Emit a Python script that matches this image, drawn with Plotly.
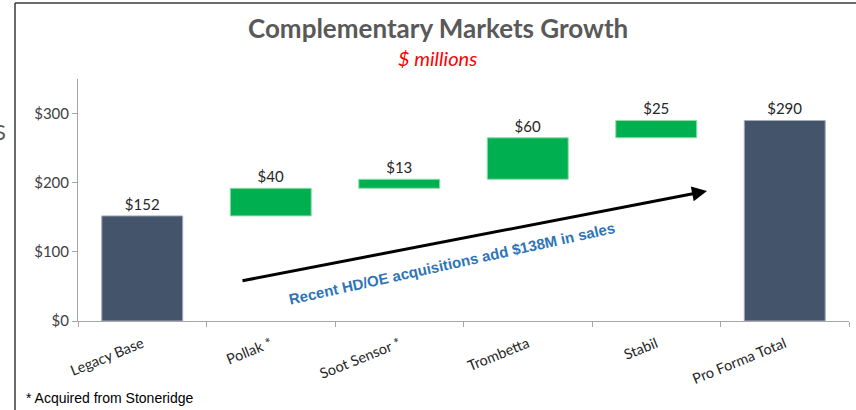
import plotly.graph_objects as go

categories = ["Legacy Base", "Pollak *", "Soot Sensor *", "Trombetta", "Stabil", "Pro Forma Total"]
values = [152, 40, 13, 60, 25, 290]
kinds = ["total", "step", "step", "step", "step", "total"]
tick_vals = [0, 100, 200, 300]
tick_text = ["$0", "$100", "$200", "$300"]

# compute bases from the data
bases = []
running = 0
for v, k in zip(values, kinds):
    if k == "total":
        bases.append(0)
        running = v
    else:
        bases.append(running)
        running += v

DARK = "#44546A"
GREEN = "#00B050"
colors = [DARK if k == "total" else GREEN for k in kinds]
edge = ["#A6AEBB" if k == "total" else "#8FDCAB" for k in kinds]

fig = go.Figure(go.Bar(
    x=categories,
    y=values,
    base=bases,
    marker=dict(color=colors, line=dict(color=edge, width=1)),
    width=0.63,
    text=[f"${v}" for v in values],
    textposition="outside",
    textfont=dict(family="Lato, Open Sans, sans-serif", size=15, color="#262626"),
    cliponaxis=False,
    hoverinfo="skip",
))

L, R, T, B = 78, 7, 79, 89
W, H = 856, 410
pw = W - L - R
ph = H - T - B

def px(x):
    return (x - L) / pw

def py(y):
    return (H - B - y) / ph

fig.update_layout(
    width=W, height=H,
    margin=dict(l=L, r=R, t=T, b=B, autoexpand=False),
    paper_bgcolor="white", plot_bgcolor="white",
    showlegend=False,
    font=dict(family="Lato, Open Sans, sans-serif", color="#404040"),
)
fig.update_yaxes(
    range=[0, 350],
    tickvals=tick_vals, ticktext=tick_text,
    showgrid=False, zeroline=False,
    showline=True, linecolor="#A6A6A6", linewidth=1,
    ticks="outside", ticklen=5, tickcolor="#A6A6A6",
    tickfont=dict(size=15, color="#404040"),
    automargin=False,
)
fig.update_xaxes(
    showgrid=False,
    showline=True, linecolor="#A6A6A6", linewidth=1,
    ticks="outside", ticklen=5, tickcolor="#A6A6A6", tickson="boundaries",
    tickangle=-22,
    ticklabelstandoff=8,
    tickfont=dict(size=14.5, color="#262626"),
    automargin=False,
)

annotations = [
    dict(text="<b>Complementary Markets Growth</b>", x=px(438), y=py(28), xref="paper", yref="paper",
         xanchor="center", yanchor="middle", showarrow=False,
         font=dict(family="Lato, Open Sans, sans-serif", size=26, color="#595959")),
    dict(text="<i>$ millions</i>", x=px(437), y=py(58), xref="paper", yref="paper",
         xanchor="center", yanchor="middle", showarrow=False,
         font=dict(family="Lato, Open Sans, sans-serif", size=20, color="#FF0000")),
    dict(text="", x=px(707), y=py(191), ax=px(241), ay=py(281),
         xref="x domain", yref="y domain", axref="x domain", ayref="y domain",
         showarrow=True, arrowhead=2, arrowsize=1, arrowwidth=3, arrowcolor="#000000"),
    dict(text="<b>Recent HD/OE acquisitions add $138M in sales</b>", x=px(451), y=py(263),
         xref="paper", yref="paper", xanchor="center", yanchor="middle",
         showarrow=False, textangle=-12.5,
         font=dict(family="Liberation Sans, Arial, sans-serif", size=15, color="#2E75B6")),
    dict(text="* Acquired from Stoneridge", x=px(24), y=py(398), xref="paper", yref="paper",
         xanchor="left", yanchor="middle", showarrow=False,
         font=dict(family="Liberation Sans, Arial, sans-serif", size=14, color="#000000")),
    dict(text="S", x=px(-8), y=py(131), xref="paper", yref="paper", xanchor="left",
         yanchor="middle", showarrow=False,
         font=dict(family="Lato, sans-serif", size=22, color="#595959")),
]
fig.update_layout(annotations=annotations)

fig.update_layout(shapes=[
    dict(type="line", xref="paper", yref="paper", x0=px(15), x1=px(15), y0=py(3), y1=py(412),
         line=dict(color="#3A3A3A", width=1.5)),
    dict(type="line", xref="paper", yref="paper", x0=px(15), x1=px(860), y0=py(3), y1=py(3),
         line=dict(color="#3A3A3A", width=1.5)),
])

fig.write_html("out.html", config={"displayModeBar": False},
               post_script="document.body.style.margin='0px';")
